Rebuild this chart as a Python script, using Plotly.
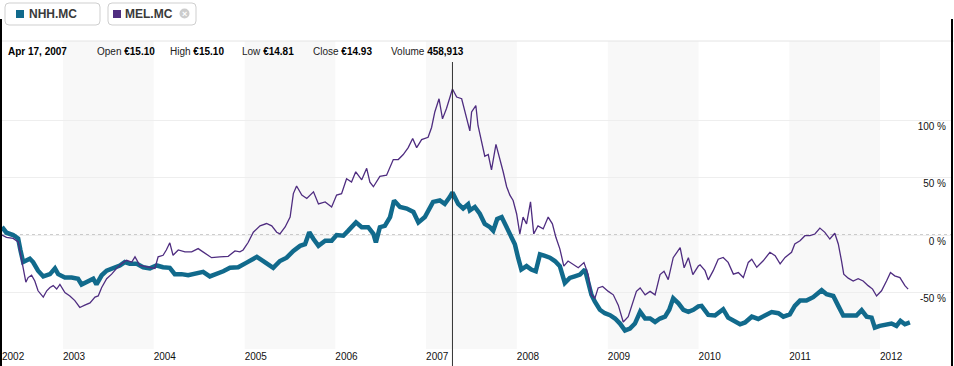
import plotly.graph_objects as go

# ---------------- data ----------------
nhh_dates = [
    "2002-05-01", "2002-05-19", "2002-06-15", "2002-07-05", "2002-07-14", "2002-07-25", "2002-08-21",
    "2002-09-03", "2002-09-23", "2002-10-14", "2002-11-10", "2002-11-30", "2002-12-13",
    "2003-01-09", "2003-02-05", "2003-03-03", "2003-03-17", "2003-04-13", "2003-05-03", "2003-05-16",
    "2003-06-06", "2003-06-26", "2003-07-22", "2003-08-18", "2003-09-07", "2003-09-27", "2003-10-25",
    "2003-11-20", "2003-12-17",
    "2004-01-13", "2004-02-08", "2004-03-06", "2004-03-26", "2004-04-22", "2004-05-19", "2004-06-22",
    "2004-07-18", "2004-08-14", "2004-09-10", "2004-10-07", "2004-11-03", "2004-12-06",
    "2005-01-09", "2005-02-19", "2005-03-17", "2005-04-26", "2005-05-23", "2005-06-19", "2005-07-16",
    "2005-08-12", "2005-09-01", "2005-09-18", "2005-10-05", "2005-10-25", "2005-11-21", "2005-12-17",
    "2006-01-06", "2006-02-02", "2006-02-22", "2006-03-25", "2006-04-17", "2006-05-13", "2006-06-03",
    "2006-06-13", "2006-06-29", "2006-07-19", "2006-08-09", "2006-08-25", "2006-09-18", "2006-10-15",
    "2006-11-11", "2006-12-01", "2006-12-27",
    "2007-01-16", "2007-01-29", "2007-02-25", "2007-03-17", "2007-04-06", "2007-04-17", "2007-05-10",
    "2007-05-30", "2007-06-19", "2007-06-26", "2007-07-16", "2007-08-05", "2007-08-25", "2007-09-15",
    "2007-09-28", "2007-10-14", "2007-11-01", "2007-11-21", "2007-12-04", "2007-12-24",
    "2008-01-06", "2008-01-19", "2008-02-09", "2008-02-28", "2008-03-17", "2008-04-03", "2008-04-23",
    "2008-05-13", "2008-06-02", "2008-06-22", "2008-07-12", "2008-08-01", "2008-08-21", "2008-09-11",
    "2008-10-01", "2008-10-14", "2008-10-27", "2008-11-10", "2008-11-30", "2008-12-20",
    "2009-01-10", "2009-01-30", "2009-02-19", "2009-03-11", "2009-03-31", "2009-04-20", "2009-05-11",
    "2009-05-31", "2009-06-20", "2009-07-10", "2009-07-30", "2009-08-19", "2009-09-05", "2009-09-21",
    "2009-10-12", "2009-11-01", "2009-11-21", "2009-12-11", "2009-12-31",
    "2010-01-13", "2010-02-09", "2010-03-08", "2010-04-10", "2010-04-30", "2010-05-21", "2010-06-17",
    "2010-07-07", "2010-08-03", "2010-08-29", "2010-09-25", "2010-10-22", "2010-11-18", "2010-12-08",
    "2011-01-03", "2011-01-23", "2011-02-13", "2011-03-11", "2011-04-07", "2011-04-27", "2011-05-11",
    "2011-05-31", "2011-06-27", "2011-07-17", "2011-08-06", "2011-09-02", "2011-09-28", "2011-10-19",
    "2011-11-08", "2011-11-28", "2011-12-11", "2011-12-31",
    "2012-01-27", "2012-02-16", "2012-03-07", "2012-03-23", "2012-04-10", "2012-04-30",
]
nhh_pct = [
    7, 2, 0, -3, -13, -23.5, -20.6,
    -23.5, -31, -36, -34, -29, -34,
    -37, -37, -38, -43, -40, -38, -43,
    -35, -31, -29, -26.5, -23.5, -25, -25,
    -28, -29,
    -26.5, -28, -28.5, -34, -34, -35, -33,
    -32, -36, -34, -31.5, -28.5, -28,
    -24, -19, -22.6, -28.5, -22.6, -19.7, -13.8,
    -9.4, -8, 2.4, -3.5, -9.4, -5, -5,
    0, -0.6, 3.8, 11, 6.8, 6.8, 1,
    -6.5, 6.8, 8, 15.6, 30, 24.4, 23,
    20, 11, 15.6,
    24.4, 28.8, 30, 27, 33, 37, 27,
    23, 26.7, 21.5, 24.4, 18.5, 9.7, 6.8,
    3.8, 14, 15.6, 6.8, 1, -8,
    -19.7, -30, -27, -30, -31.5, -16.8, -18.2,
    -19.7, -22.6, -27, -41.7, -37.3, -35.9, -34.4,
    -30, -41.7, -52, -58, -65, -68,
    -69.7, -72.6, -77, -83, -81.4, -77, -66.7,
    -72.6, -72.6, -75.6, -72.6, -71, -65, -55,
    -59.4, -65, -66.7, -65, -62,
    -61.6, -69.5, -70, -64.5, -71.8, -74.7, -77.6,
    -76, -71, -73, -70, -67, -68, -71,
    -69, -61.6, -57, -57, -54, -50, -48,
    -51.5, -53, -61.6, -70, -70, -70, -65.4,
    -71, -71.8, -80.5, -79,
    -77.6, -77, -79, -74.7, -77.6, -76,
]

mel_dates = [
    "2002-05-01", "2002-05-19", "2002-06-15", "2002-07-05", "2002-07-14", "2002-07-25", "2002-08-05",
    "2002-08-14", "2002-08-28", "2002-09-10", "2002-09-23", "2002-10-14", "2002-10-28", "2002-11-10",
    "2002-11-23", "2002-12-07", "2002-12-20",
    "2003-01-09", "2003-01-29", "2003-02-18", "2003-03-10", "2003-03-30", "2003-04-20", "2003-05-10",
    "2003-05-23", "2003-06-06", "2003-06-26", "2003-07-16", "2003-08-05", "2003-08-25", "2003-09-14",
    "2003-10-05", "2003-10-18", "2003-11-07", "2003-12-10",
    "2004-01-06", "2004-01-19", "2004-02-08", "2004-02-21", "2004-03-06", "2004-03-19", "2004-04-09",
    "2004-05-06", "2004-06-02", "2004-06-28", "2004-07-25", "2004-08-21", "2004-09-23", "2004-10-27",
    "2004-11-23", "2004-12-13", "2004-12-26",
    "2005-01-15", "2005-02-05", "2005-03-04", "2005-03-30", "2005-04-20", "2005-05-10", "2005-05-23",
    "2005-06-13", "2005-07-03", "2005-07-16", "2005-07-29", "2005-08-19", "2005-09-08", "2005-10-05",
    "2005-10-25", "2005-11-21", "2005-12-17",
    "2006-01-06", "2006-01-26", "2006-02-15", "2006-03-07", "2006-03-24", "2006-04-17", "2006-05-07",
    "2006-05-20", "2006-06-03", "2006-06-29", "2006-07-26", "2006-08-22", "2006-09-11", "2006-10-01",
    "2006-10-21", "2006-11-08", "2006-11-24", "2006-12-14",
    "2007-01-09", "2007-01-23", "2007-02-05", "2007-02-22", "2007-03-08", "2007-03-24", "2007-04-17",
    "2007-05-04", "2007-05-24", "2007-06-13", "2007-06-26", "2007-07-03", "2007-07-20", "2007-07-29",
    "2007-08-12", "2007-08-25", "2007-09-08", "2007-09-21", "2007-10-09", "2007-10-22", "2007-11-07",
    "2007-11-21", "2007-12-04", "2007-12-17", "2007-12-31",
    "2008-01-13", "2008-01-26", "2008-02-09", "2008-02-25", "2008-03-09", "2008-03-26", "2008-04-16",
    "2008-05-06", "2008-05-23", "2008-06-06", "2008-06-22", "2008-07-08", "2008-07-25", "2008-08-15",
    "2008-09-04", "2008-09-27", "2008-10-14", "2008-10-27", "2008-11-10", "2008-11-23", "2008-12-11",
    "2009-01-03", "2009-01-23", "2009-02-12", "2009-03-04", "2009-03-24", "2009-04-13", "2009-04-26",
    "2009-05-11", "2009-05-31", "2009-06-20", "2009-07-10", "2009-07-30", "2009-08-15", "2009-09-01",
    "2009-09-21", "2009-10-19", "2009-11-04", "2009-11-21", "2009-12-09", "2009-12-31",
    "2010-01-07", "2010-01-27", "2010-02-09", "2010-03-01", "2010-03-21", "2010-04-10", "2010-04-30",
    "2010-05-21", "2010-06-10", "2010-06-30", "2010-07-20", "2010-08-03", "2010-08-23", "2010-09-18",
    "2010-10-15", "2010-11-05", "2010-11-25", "2010-12-15",
    "2011-01-10", "2011-01-23", "2011-02-13", "2011-03-05", "2011-03-25", "2011-04-14", "2011-05-04",
    "2011-05-24", "2011-06-13", "2011-07-03", "2011-07-17", "2011-07-30", "2011-08-08", "2011-08-26",
    "2011-09-15", "2011-10-05", "2011-10-25", "2011-11-14", "2011-12-02", "2011-12-18",
    "2012-01-07", "2012-01-27", "2012-02-12", "2012-02-29", "2012-03-21", "2012-04-10", "2012-04-23",
]
mel_pct = [
    0, -2, -3, -6, -16, -28, -41,
    -37, -35, -40, -48.5, -54, -48.5, -45.6,
    -44, -47, -43,
    -50, -53, -57, -63, -61, -59, -54,
    -53, -45.6, -38, -34, -29, -25, -22,
    -23.5, -19, -26.5, -28,
    -29, -19, -17.6, -13, -6.8, -17.6, -13,
    -14.7, -14.7, -11.8, -16, -19.7, -19, -18.5,
    -13.8, -14.7, -13,
    -6.5, 2.4, 8, 10, 8, 2.4, 1,
    7, 15.6, 36, 42.6, 34.7, 31.8, 37.6,
    27, 28.8, 24.4,
    34.7, 36, 49, 46, 55, 48, 58,
    46, 42, 51, 52, 65.6, 65.6, 70,
    76, 84, 76, 83,
    85, 93.5, 107, 118.5, 101, 110, 127,
    120, 118.5, 101, 90.5, 107, 112.6, 95,
    80, 68.5, 70, 56.7, 78.8, 68.5, 55,
    42, 34.7, 30, 18.5,
    1, 15.6, 9.7, 28.8, 1, 8, 5.3,
    15.6, 9.7, -2, -12, -27, -22.6, -25.6,
    -28.5, -24, -34.4, -52, -55, -46, -44.7,
    -49, -52, -61, -75.6, -71, -58, -49,
    -46, -52, -49, -52, -34.4, -31.5, -38.8,
    -19.7, -11, -28.5, -19.7, -34.4, -27,
    -26, -31, -39, -31, -21, -19.5, -23.8,
    -34, -32.6, -37, -23.8, -21, -28, -22.4,
    -15, -18, -25, -19.5,
    -15, -7.8, -5, -0.6, -0.6, 0.9, 6,
    2.3, -3.5, 1.5, -7.8, -22.4, -34, -37.5,
    -40, -38, -40, -44, -47, -53,
    -48.5, -40, -32.6, -35.5, -37, -44, -47,
]

series_names = ["NHH.MC", "MEL.MC"]
year_labels = ["2002", "2003", "2004", "2005", "2006", "2007", "2008", "2009", "2010", "2011", "2012"]
y_tick_values = [-50, 0, 50, 100]
y_tick_labels = ["-50 %", "0 %", "50 %", "100 %"]

info_date = "Apr 17, 2007"
crosshair_date = "2007-04-17"
info_fields = ["Open", "High", "Low", "Close", "Volume"]
info_values = ["€15.10", "€15.10", "€14.81", "€14.93", "458,913"]

# ---------------- styling / layout ----------------
NHH_COLOR = "#116a8c"
MEL_COLOR = "#4f2d80"
FONT = "Arial, Liberation Sans, sans-serif"

W, H = 954, 366
PL, PT, PR, PB = 2, 41, 3, 17
PW, PH = W - PL - PR, H - PT - PB

def px(x):
    return (x - PL) / PW

def py(y):
    return (PT + PH - y) / PH

X_RANGE = ["2002-05-01", "2012-10-12 10:00"]
Y_RANGE = [-99.1, 168.7]

fig = go.Figure()
fig.add_trace(go.Scatter(x=nhh_dates, y=nhh_pct, mode="lines", name=series_names[0],
                         line=dict(color=NHH_COLOR, width=4.5), hoverinfo="skip"))
fig.add_trace(go.Scatter(x=mel_dates, y=mel_pct, mode="lines", name=series_names[1],
                         line=dict(color=MEL_COLOR, width=1.3), hoverinfo="skip"))

shapes = []
# alternating year bands
for i, lab in enumerate(year_labels[:-1]):
    if i % 2 == 1:
        shapes.append(dict(type="rect", xref="x", yref="paper",
                           x0=f"{lab}-01-01", x1=f"{int(lab) + 1}-01-01", y0=0, y1=1,
                           fillcolor="#f8f8f8", line=dict(width=0), layer="below"))
# dotted zero line
shapes.append(dict(type="line", xref="paper", yref="y", x0=0, x1=1, y0=0, y1=0,
                   line=dict(color="#9a9a9a", width=1, dash="dot"), layer="below"))
# top border of chart area
shapes.append(dict(type="line", xref="paper", yref="paper", x0=px(0), x1=px(W), y0=1, y1=1,
                   line=dict(color="#e4e4e4", width=1)))
# crosshair
shapes.append(dict(type="line", xref="x", yref="paper", x0=crosshair_date, x1=crosshair_date,
                   y0=py(62), y1=py(H), line=dict(color="#333333", width=1), layer="above"))
# black frame edges
for xe in (1, 952):
    shapes.append(dict(type="line", xref="paper", yref="paper", x0=px(xe), x1=px(xe),
                       y0=py(19), y1=py(H + 2), line=dict(color="#000000", width=2)))


def rrect(x0, y0, x1, y1, r):
    X0, X1, T, B = px(x0), px(x1), py(y0), py(y1)
    rx, ry = r / PW, r / PH
    return (f"M {X0+rx},{T} L {X1-rx},{T} Q {X1},{T} {X1},{T-ry} L {X1},{B+ry} "
            f"Q {X1},{B} {X1-rx},{B} L {X0+rx},{B} Q {X0},{B} {X0},{B+ry} "
            f"L {X0},{T-ry} Q {X0},{T} {X0+rx},{T} Z")

# legend buttons
for (bx0, bx1) in [(5, 100), (108, 196)]:
    shapes.append(dict(type="path", xref="paper", yref="paper", path=rrect(bx0, 3, bx1, 25, 4),
                       fillcolor="white", line=dict(color="#cfcfcf", width=1)))
for (sx, col) in [(16, NHH_COLOR), (113, MEL_COLOR)]:
    shapes.append(dict(type="rect", xref="paper", yref="paper", x0=px(sx), x1=px(sx + 8),
                       y0=py(18), y1=py(10), fillcolor=col, line=dict(width=0)))
shapes.append(dict(type="circle", xref="paper", yref="paper", x0=px(179.5), x1=px(189.5),
                   y0=py(18.5), y1=py(8.5), fillcolor="#cccccc", line=dict(width=0)))

annotations = []
for (tx, name) in [(27, series_names[0]), (123, series_names[1])]:
    annotations.append(dict(xref="paper", yref="paper", x=px(tx), y=py(14), xanchor="left",
                            yanchor="middle", showarrow=False, text=f"<b>{name}</b>",
                            font=dict(family=FONT, size=12, color="#3a3a3a")))
annotations.append(dict(xref="paper", yref="paper", x=px(184.5), y=py(13.5), xanchor="center",
                        yanchor="middle", showarrow=False, text="<b>×</b>",
                        font=dict(family=FONT, size=9, color="white")))

# info row
annotations.append(dict(xref="paper", yref="paper", x=px(6), y=py(52), xanchor="left", yanchor="middle",
                        showarrow=False, text=f"<b>{info_date}</b>",
                        font=dict(family=FONT, size=10, color="#000000")))
label_x = [95, 168, 240, 311, 389]
for lab, val, lx in zip(info_fields, info_values, label_x):
    annotations.append(dict(xref="paper", yref="paper", x=px(lx), y=py(52), xanchor="left",
                            yanchor="middle", showarrow=False,
                            text=f"<span style='color:#222222'>{lab}</span> <b>{val}</b>",
                            font=dict(family=FONT, size=10, color="#000000")))

# x ticks: first label clamped to the data start
tick_dates = [max(f"{y}-01-01", nhh_dates[0]) for y in year_labels]

fig.update_layout(
    width=W, height=H,
    margin=dict(l=PL, r=PR, t=PT, b=PB, pad=0),
    paper_bgcolor="white", plot_bgcolor="white",
    showlegend=False, hovermode=False,
    shapes=shapes, annotations=annotations,
    xaxis=dict(type="date", range=X_RANGE, showgrid=False, zeroline=False, showline=False,
               tickvals=tick_dates, ticktext=year_labels, ticks="",
               ticklabelposition="outside right",
               tickfont=dict(family=FONT, size=10, color="#111111"), fixedrange=True),
    yaxis=dict(range=Y_RANGE, side="right", tickvals=y_tick_values, ticktext=y_tick_labels,
               ticklabelposition="inside", ticklabelshift=6, ticklabelstandoff=2,
               showgrid=True, gridcolor="#eeeeee", gridwidth=1, zeroline=False, showline=False,
               ticks="", tickfont=dict(family=FONT, size=10, color="#111111"), fixedrange=True),
)

fig.write_html("out.html", config={"displayModeBar": False},
               post_script="document.body.style.margin='0';")
